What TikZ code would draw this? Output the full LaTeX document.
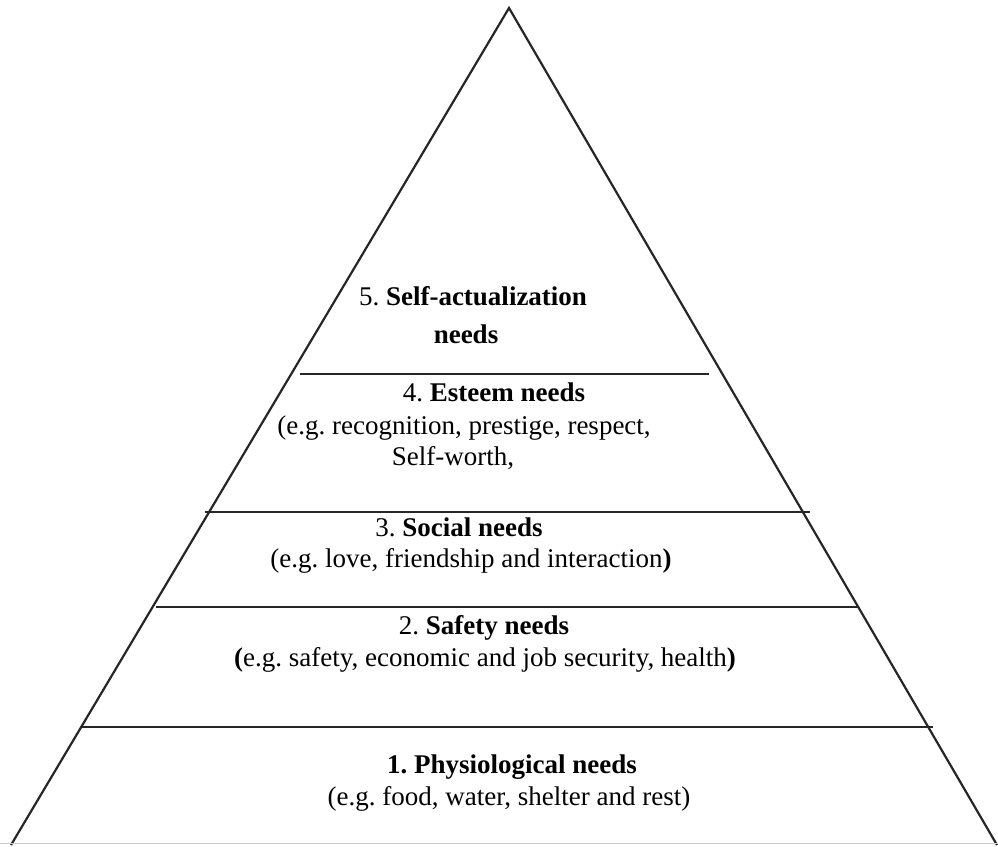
\documentclass[tikz,border=0pt]{standalone}
\usepackage{fontspec}
\setmainfont{Liberation Serif}
\frenchspacing
\begin{document}
\begin{tikzpicture}[x=1pt, y=-1pt,
    level/.style={line width=2.2pt, black!85},
    label/.style={font=\fontsize{27}{32}\selectfont, anchor=base, inner sep=0pt}]
    \useasboundingbox (0,0) rectangle (998,846);

    % triangle corners
    \coordinate (top) at (509,8);
    \coordinate (left) at (11,845);
    \coordinate (right) at (997,845);

    \draw[level] (left) -- (top) -- (right);
    \draw[gray!40, line width=1pt] (0,843) -- (998,843);

    % dividing lines
    \coordinate (a1) at (300,374);  \coordinate (b1) at (709,374);
    \coordinate (a2) at (205,512);  \coordinate (b2) at (810,512);
    \coordinate (a3) at (156,607);  \coordinate (b3) at (859,607);
    \coordinate (a4) at (82,727);   \coordinate (b4) at (933,727);
    \draw[level] (a1) -- (b1);
    \draw[level] (a2) -- (b2);
    \draw[level] (a3) -- (b3);
    \draw[level] (a4) -- (b4);

    % levels
    \node[label] (self1) at (473,305) {5. \textbf{Self-actualization}};
    \node[label] (self2) at (466,343) {\textbf{needs}};

    \node[label] (est1) at (494,401) {4. \textbf{Esteem needs}};
    \node[label] (est2) at (464,434) {(e.g. recognition, prestige, respect,};
    \node[label] (est3) at (453,465) {Self-worth,};

    \node[label] (soc1) at (459,536) {3. \textbf{Social needs}};
    \node[label] (soc2) at (471,567) {(e.g. love, friendship and interaction\textbf{)}};

    \node[label] (saf1) at (484,634) {2. \textbf{Safety needs}};
    \node[label] (saf2) at (485,666) {\textbf{(}e.g. safety, economic and job security, health\textbf{)}};

    \node[label] (phy1) at (512,773) {\textbf{1. Physiological needs}};
    \node[label] (phy2) at (509,805) {(e.g. food, water, shelter and rest)};
\end{tikzpicture}
\end{document}
